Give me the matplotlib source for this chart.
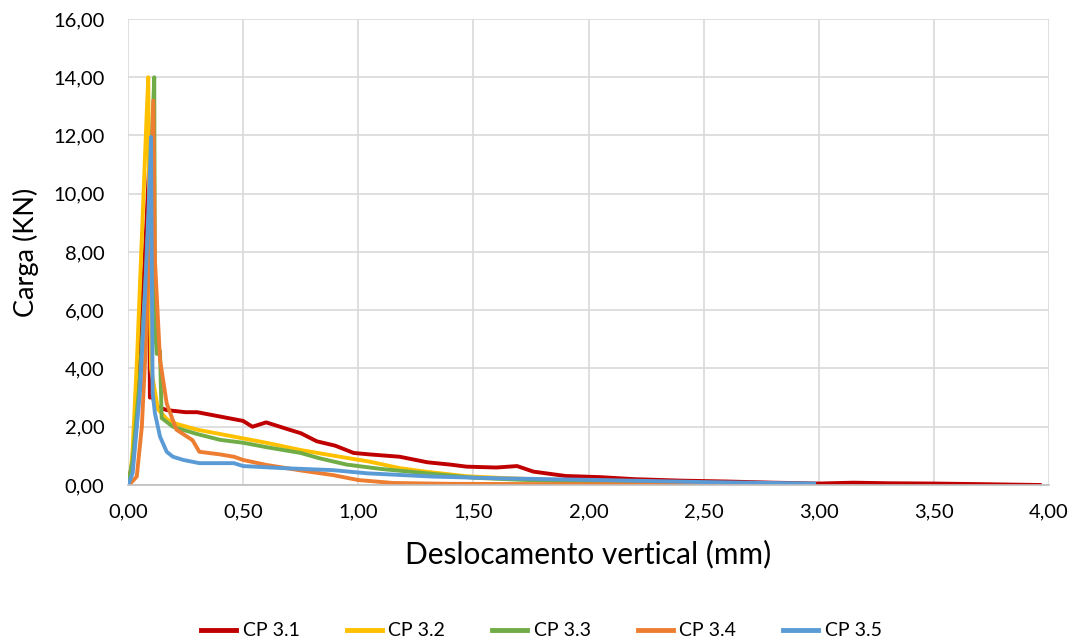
import matplotlib
matplotlib.use('Agg')
import matplotlib.pyplot as plt
from matplotlib.ticker import FuncFormatter, MultipleLocator

# curves (deslocamento mm, carga kN)
x_cp31 = [0.0, 0.02, 0.04, 0.06, 0.08, 0.092, 0.094, 0.095, 0.1, 0.12, 0.17, 0.25, 0.3, 0.4, 0.5, 0.54, 0.56, 0.6, 0.62, 0.7, 0.75, 0.82, 0.9, 0.98, 1.05, 1.18, 1.3, 1.4, 1.47, 1.6, 1.69, 1.76, 1.9, 2.05, 2.2, 2.4, 2.6, 2.8, 3.0, 3.15, 3.3, 3.5, 3.7, 3.96]
y_cp31 = [0.0, 0.8, 2.8, 5.8, 9.0, 11.0, 4.2, 3.0, 3.2, 2.7, 2.57, 2.5, 2.5, 2.35, 2.2, 2.0, 2.05, 2.15, 2.1, 1.9, 1.78, 1.5, 1.35, 1.1, 1.05, 0.97, 0.78, 0.7, 0.63, 0.6, 0.65, 0.46, 0.31, 0.27, 0.2, 0.15, 0.12, 0.08, 0.05, 0.08, 0.06, 0.05, 0.03, 0.0]

x_cp32 = [0.0, 0.01, 0.02, 0.04, 0.06, 0.08, 0.088, 0.093, 0.1, 0.13, 0.17, 0.21, 0.3, 0.4, 0.5, 0.6, 0.75, 0.92, 1.05, 1.18, 1.3, 1.47, 1.6, 1.76, 2.0, 2.3, 2.63]
y_cp32 = [0.0, 0.3, 1.2, 4.5, 8.5, 12.5, 14.0, 9.0, 4.0, 2.6, 2.25, 2.1, 1.9, 1.75, 1.6, 1.45, 1.2, 0.97, 0.8, 0.58, 0.45, 0.3, 0.25, 0.2, 0.1, 0.05, 0.02]

x_cp33 = [0.0, 0.02, 0.05, 0.08, 0.1, 0.114, 0.117, 0.125, 0.139, 0.146, 0.195, 0.3, 0.4, 0.5, 0.6, 0.75, 0.83, 0.95, 1.1, 1.3, 1.5, 1.7, 2.0, 2.4, 2.9]
y_cp33 = [0.0, 0.86, 3.5, 7.5, 11.0, 14.0, 5.4, 4.5, 4.6, 2.3, 2.0, 1.75, 1.55, 1.45, 1.3, 1.1, 0.92, 0.7, 0.55, 0.4, 0.25, 0.18, 0.1, 0.06, 0.03]

x_cp34 = [0.0, 0.01, 0.038, 0.06, 0.081, 0.095, 0.11, 0.117, 0.139, 0.168, 0.21, 0.28, 0.31, 0.4, 0.46, 0.5, 0.6, 0.75, 0.89, 1.0, 1.15, 1.4, 1.8, 2.3, 2.9]
y_cp34 = [0.0, 0.05, 0.29, 2.0, 5.4, 8.86, 13.2, 7.7, 4.3, 2.8, 1.9, 1.54, 1.14, 1.05, 0.97, 0.86, 0.69, 0.5, 0.34, 0.17, 0.07, 0.04, 0.03, 0.02, 0.02]

x_cp35 = [0.0, 0.02, 0.052, 0.074, 0.092, 0.1, 0.103, 0.107, 0.117, 0.139, 0.168, 0.195, 0.24, 0.31, 0.46, 0.5, 0.67, 0.89, 1.04, 1.32, 1.61, 2.05, 2.5, 2.98]
y_cp35 = [0.0, 0.4, 3.2, 6.6, 10.0, 11.95, 7.7, 3.15, 2.46, 1.66, 1.14, 0.97, 0.86, 0.75, 0.75, 0.65, 0.58, 0.51, 0.4, 0.29, 0.23, 0.17, 0.1, 0.05]

series = [
    ("CP 3.1", x_cp31, y_cp31, "#c00000"),
    ("CP 3.2", x_cp32, y_cp32, "#ffc000"),
    ("CP 3.3", x_cp33, y_cp33, "#70ad47"),
    ("CP 3.4", x_cp34, y_cp34, "#ed7d31"),
    ("CP 3.5", x_cp35, y_cp35, "#5b9bd5"),
]

plt.rcParams['font.family'] = ['Lato', 'DejaVu Sans']

fig = plt.figure(figsize=(10.83, 6.44), dpi=100)
ax = fig.add_axes([0.1182, 0.2469, 0.8504, 0.7236])

for name, xs, ys, col in series:
    ax.plot(xs, ys, color=col, lw=2.8, label=name, solid_joinstyle='round')

ax.set_xlim(0, 4)
ax.set_ylim(0, 16)
ax.xaxis.set_major_locator(MultipleLocator(0.5))
ax.yaxis.set_major_locator(MultipleLocator(2))
fmt = FuncFormatter(lambda v, p: f"{v:.2f}".replace(".", ","))
ax.xaxis.set_major_formatter(fmt)
ax.yaxis.set_major_formatter(fmt)
ax.grid(True, color="#d9d9d9", lw=1.2)
ax.set_axisbelow(True)
for s in ["top", "right", "left"]:
    ax.spines[s].set_visible(False)
ax.spines["bottom"].set_color("#bfbfbf")
ax.spines["bottom"].set_linewidth(1.2)
ax.tick_params(length=0, labelsize=14.5, colors="#000000")
ax.tick_params(axis="x", pad=13)
ax.tick_params(axis="y", pad=17)

ax.set_xlabel("Deslocamento vertical (mm)", fontsize=21.5, labelpad=14)
ax.set_ylabel("Carga (KN)", fontsize=19.5, labelpad=10)

leg = fig.legend(loc="lower center", bbox_to_anchor=(0.5, -0.02), ncol=5, frameon=False,
                 fontsize=14, handlelength=1.8, columnspacing=2.4, handletextpad=0.35)
for ln in leg.get_lines():
    ln.set_linewidth(3.5)

fig.savefig("out.png", dpi=100)
